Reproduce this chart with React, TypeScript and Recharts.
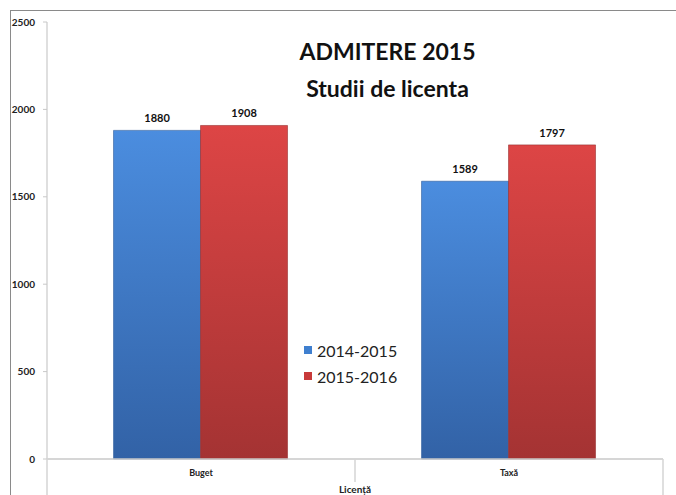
import { Bar, BarChart, LabelList, XAxis, YAxis } from "recharts";

const categories = ["Buget", "Taxă"];
const series2014 = [1880, 1589];
const series2015 = [1908, 1797];
const yTicks = [0, 500, 1000, 1500, 2000, 2500];
const seriesNames = ["2014-2015", "2015-2016"];

const data = categories.map((name, i) => ({
  name,
  a: series2014[i],
  b: series2015[i],
}));

const WIDTH = 676;
const HEIGHT = 495;
const PLOT_LEFT = 47;
const PLOT_RIGHT = 663;
const HALF_BAND = (PLOT_RIGHT - PLOT_LEFT) / categories.length / 2;
const FONT = "Lato, 'Open Sans', sans-serif";

const CategoryTick = (props: any) => {
  const { x, y, payload, index } = props;
  const top = y - 8;
  return (
    <g>
      <line
        x1={x - HALF_BAND}
        x2={x - HALF_BAND}
        y1={top}
        y2={index === 0 ? HEIGHT : top + 23}
        stroke="#d4d4d4"
        strokeWidth={1.5}
      />
      {index === categories.length - 1 && (
        <line
          x1={x + HALF_BAND}
          x2={x + HALF_BAND}
          y1={top}
          y2={HEIGHT}
          stroke="#d4d4d4"
          strokeWidth={1.5}
        />
      )}
      <text
        x={x}
        y={top + 17}
        textAnchor="middle"
        fontSize={9}
        fontWeight="bold"
        fontFamily={FONT}
        fill="#222"
      >
        {payload.value}
      </text>
    </g>
  );
};

const legendColors = ["#3f7fcf", "#c83a3a"];

export default function App() {
  return (
    <div style={{ position: "absolute", left: 0, top: 0, width: WIDTH, height: HEIGHT, background: "#fff", overflow: "hidden" }}>
      <div
        style={{
          position: "absolute",
          left: 10,
          top: 10,
          width: WIDTH,
          height: HEIGHT,
          borderLeft: "1.5px solid #8a8a8a",
          borderTop: "1.5px solid #8a8a8a",
        }}
      />
      <div
        style={{
          position: "absolute",
          left: 250,
          top: 33,
          width: 275,
          textAlign: "center",
          fontFamily: FONT,
          fontWeight: "bold",
          fontSize: 23,
          lineHeight: "37px",
          color: "#111",
        }}
      >
        ADMITERE 2015
        <br />
        Studii de licenta
      </div>
      <BarChart
        width={WIDTH}
        height={HEIGHT}
        data={data}
        margin={{ top: 22, right: WIDTH - PLOT_RIGHT, left: 0, bottom: 0 }}
        barCategoryGap="21.6%"
        barGap={0}
        style={{ position: "absolute", left: 0, top: 0 }}
      >
        <defs>
          <linearGradient id="gBlue" x1="0" y1="0" x2="0" y2="1">
            <stop offset="0%" stopColor="#4b8ddf" />
            <stop offset="100%" stopColor="#3262a6" />
          </linearGradient>
          <linearGradient id="gRed" x1="0" y1="0" x2="0" y2="1">
            <stop offset="0%" stopColor="#dd4545" />
            <stop offset="100%" stopColor="#a43333" />
          </linearGradient>
        </defs>
        <XAxis
          dataKey="name"
          height={HEIGHT - 459}
          axisLine={{ stroke: "#c8c8c8", strokeWidth: 1.5 }}
          tickLine={false}
          tick={<CategoryTick />}
          interval={0}
          label={{
            value: "Licență",
            position: "insideBottom",
            offset: 2,
            fontSize: 10,
            fontWeight: "bold",
            fontFamily: FONT,
            fill: "#222",
          }}
        />
        <YAxis
          width={PLOT_LEFT}
          domain={[0, 2500]}
          ticks={yTicks}
          interval={0}
          axisLine={{ stroke: "#d4d4d4", strokeWidth: 1.5 }}
          tickLine={{ stroke: "#c8c8c8" }}
          tickSize={4}
          tickMargin={8}
          tick={{ fontSize: 10, fontWeight: "bold", fontFamily: FONT, fill: "#222" }}
        />
        <Bar dataKey="a" name={seriesNames[0]} fill="url(#gBlue)" stroke="#2f5d9c" strokeWidth={0.6} isAnimationActive={false}>
          <LabelList dataKey="a" position="top" offset={8} fontSize={11} fontWeight="bold" fontFamily={FONT} fill="#111" />
        </Bar>
        <Bar dataKey="b" name={seriesNames[1]} fill="url(#gRed)" stroke="#983030" strokeWidth={0.6} isAnimationActive={false}>
          <LabelList dataKey="b" position="top" offset={8} fontSize={11} fontWeight="bold" fontFamily={FONT} fill="#111" />
        </Bar>
      </BarChart>
      <div style={{ position: "absolute", left: 304, top: 337, fontFamily: FONT }}>
        {seriesNames.map((s, i) => (
          <div
            key={s}
            style={{ display: "flex", alignItems: "center", height: 26, fontSize: 16, color: "#222" }}
          >
            <span
              style={{
                display: "inline-block",
                width: 8,
                height: 8,
                background: legendColors[i],
                marginRight: 5,
              }}
            />
            {s}
          </div>
        ))}
      </div>
    </div>
  );
}
